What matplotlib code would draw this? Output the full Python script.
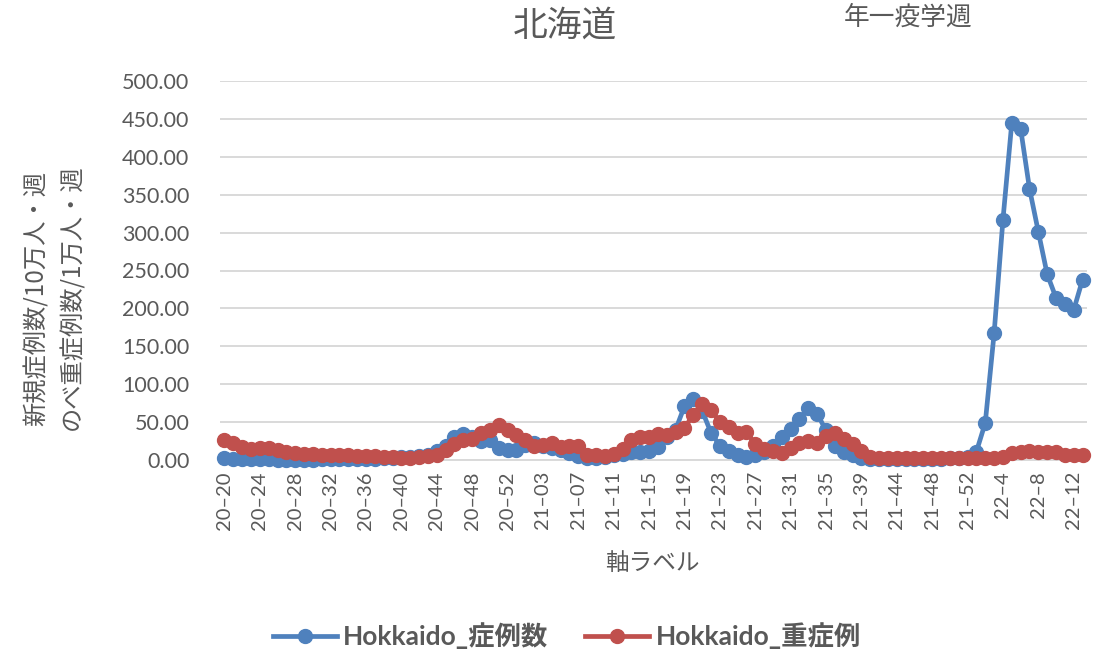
import matplotlib
matplotlib.use("Agg")
import matplotlib.pyplot as plt
from matplotlib.ticker import FixedLocator, FuncFormatter

plt.rcParams['font.family'] = ['Noto Sans CJK JP', 'DejaVu Sans']

# categories: year-week
weeks_2020 = [f"20–{w}" for w in range(20, 54)]
weeks_2021 = [f"21–{w:02d}" for w in range(1, 53) if w != 41]
weeks_2022 = [f"22–{w}" for w in range(1, 14)]
categories = weeks_2020 + weeks_2021 + weeks_2022

cases = [2, 1.5, 1, 1, 1.5, 1, 0.5, 0.5, 0.5, 0.5, 0.5, 1, 1, 1, 1, 1, 1, 1, 2, 3,
         4, 4, 5, 7, 12, 18, 30, 34, 31, 25, 27, 16, 13, 13, 20, 22, 18, 16, 13, 9,
         5, 3, 3, 4, 6, 8, 10, 11, 12, 17, 30, 40, 71, 80, 65, 36, 19, 12, 6, 4,
         7, 10, 18, 30, 41, 54, 69, 61, 39, 18, 11, 6, 2, 1.5, 1, 1, 1, 1.5, 1.5, 1.5,
         1.5, 1.5, 2, 2, 4, 11, 49, 167, 317, 445, 437, 358, 301, 245, 214, 206, 198, 238]

severe = [26, 22, 17, 15, 16, 16, 13, 10, 9, 8, 8, 7, 6, 6, 6, 5, 5, 5, 4, 4,
          3, 3, 4, 5, 7, 13, 21, 26, 28, 35, 40, 46, 40, 33, 27, 19, 20, 23, 17, 19,
          18, 7, 6, 5, 8, 14, 26, 30, 31, 34, 33, 37, 42, 60, 74, 66, 50, 43, 36, 37,
          21, 15, 12, 9, 16, 23, 25, 22, 32, 36, 28, 21, 12, 4, 2, 2, 2.5, 2.5, 2.5, 2.5,
          2.5, 2.5, 2.5, 2.5, 2.5, 2.5, 2, 3, 4, 9, 11, 12, 10, 10, 11, 7, 7, 6]

tick_every = 4
series_names = ["Hokkaido_症例数", "Hokkaido_重症例"]
y_ticks = [0, 50, 100, 150, 200, 250, 300, 350, 400, 450, 500]
ylabel_lines = ["新規症例数/10万人・週", "のべ重症例数/1万人・週"]

BLUE = "#4F81BD"
RED = "#C0504D"
GREY = "#595959"
GRID = "#D9D9D9"

fig = plt.figure(figsize=(11.09, 6.53), dpi=100)
ax = fig.add_axes([220 / 1109, 1 - 460 / 653, (1087 - 220) / 1109, (460 - 81) / 653])

x = list(range(len(categories)))
ax.plot(x, cases, color=BLUE, lw=3.4, marker='o', ms=10, label=series_names[0],
        clip_on=False, zorder=3)
ax.plot(x, severe, color=RED, lw=3.4, marker='o', ms=10, label=series_names[1],
        clip_on=False, zorder=4)

ax.set_xlim(-0.5, len(categories) - 0.5)
ax.set_ylim(0, 500)
ax.yaxis.set_major_locator(FixedLocator(y_ticks))
ax.yaxis.set_major_formatter(FuncFormatter(lambda v, p: f"{v:.2f}"))
ax.grid(axis='y', color=GRID, lw=1.4)
ax.set_axisbelow(True)
for s in ['top', 'right', 'left']:
    ax.spines[s].set_visible(False)
ax.spines['bottom'].set_color(GRID)
ax.spines['bottom'].set_linewidth(1.4)

ticks = x[::tick_every]
ax.set_xticks(ticks)
ax.set_xticklabels([categories[i] for i in ticks], rotation=90,
                   family=['Lato', 'DejaVu Sans'], fontsize=14.5, color=GREY)
ax.tick_params(axis='x', length=0, pad=8)
ax.tick_params(axis='y', length=0, pad=22, labelsize=15.5, labelcolor=GREY)
for lab in ax.get_yticklabels():
    lab.set_family(['Lato', 'DejaVu Sans'])

fig.text(37 / 1109, 1 - 298 / 653, ylabel_lines[0], rotation=90, ha='center', va='center',
         fontsize=17.5, color=GREY)
fig.text(72 / 1109, 1 - 297 / 653, ylabel_lines[1], rotation=90, ha='center', va='center',
         fontsize=17.5, color=GREY)
fig.text(652 / 1109, 1 - 563 / 653, "軸ラベル", ha='center', va='center',
         fontsize=17, color=GREY)

fig.text(565 / 1109, 1 - 26 / 653, "北海道", ha='center', va='center',
         fontsize=25, color=GREY)
fig.text(908 / 1109, 1 - 18 / 653, "年一疫学週", ha='center', va='center',
         fontsize=18.5, color=GREY)

leg = fig.legend(loc='center', bbox_to_anchor=(567 / 1109, 1 - 636 / 653), ncol=2,
                 frameon=False, handlelength=2.4, handletextpad=0.25, columnspacing=1.4,
                 prop={'family': ['Lato', 'Noto Sans CJK JP'], 'size': 19, 'weight': 'bold'})
for t in leg.get_texts():
    t.set_color(GREY)

fig.savefig("out.png", dpi=100)
